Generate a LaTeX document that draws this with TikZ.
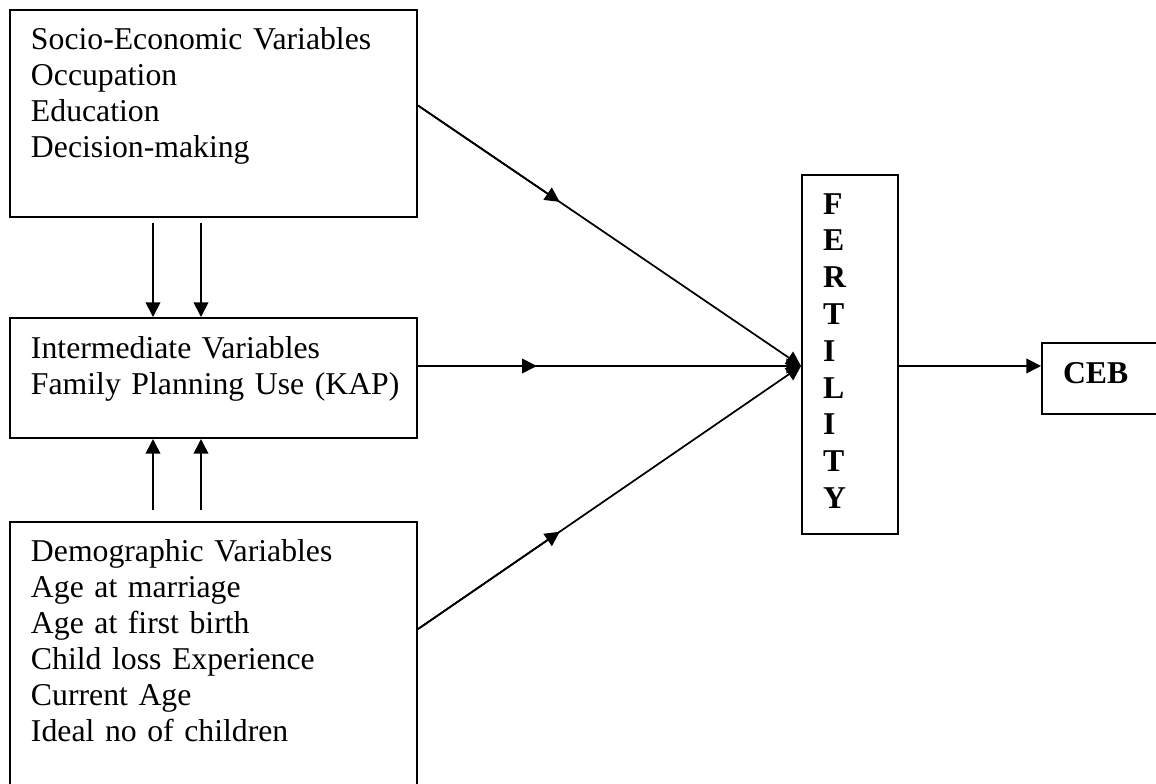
\documentclass[tikz,border=0pt]{standalone}
\usepackage{fontspec}
\setmainfont{Liberation Serif}
\usetikzlibrary{arrows.meta,positioning,calc}

\begin{document}
\begin{tikzpicture}[x=0.75pt,y=-0.75pt,
  varbox/.style={draw,line width=1.5pt,anchor=north west,align=left,
    inner xsep=15.75pt,inner ysep=0pt,text width=273.75pt,
    font=\fontsize{23.8}{27}\selectfont},
  bigbox/.style={varbox,font=\bfseries\fontsize{23.8}{27.6}\selectfont},
  arr/.style={line width=1.3pt,-{Triangle[length=11pt,width=11pt]}}]
  \useasboundingbox (0,0) rectangle (1156,783);
  % the three groups of variables
  \node[varbox,text height=29.25pt,text depth=126pt] (socio) at (9,9)
    {Socio-Economic Variables\\Occupation\\Education\\Decision-making};
  \node[varbox,text height=30pt,text depth=60pt] (inter) at (9,317)
    {Intermediate Variables\\\mbox{Family Planning Use (KAP)}};
  \node[varbox,text height=29.25pt,text depth=172.5pt] (demo) at (9,521)
    {Demographic Variables\\Age at marriage\\Age at first birth\\Child loss Experience\\Current Age\\Ideal no of children};
  % outcome
  \node[bigbox,text width=40.5pt,text height=29.25pt,text depth=240pt] (fert) at (801,174)
    {F\\E\\R\\T\\I\\L\\I\\T\\Y};
  \node[bigbox,text width=100pt,text height=30pt,text depth=23.25pt] (ceb) at (1041,342) {CEB};
  \coordinate (fin) at ([yshift=-8.6pt]fert.west);
  \coordinate (sout) at ([yshift=6pt]socio.east);
  \coordinate (iout) at ([yshift=9pt]inter.east);
  \coordinate (dout) at ([yshift=20.6pt]demo.east);
  \draw[arr] (sout) -- ($(sout)!0.37!(fin)$);
  \draw[arr] (sout) -- (fin);
  \draw[arr] (iout) -- ($(iout)!0.31!(fin)$);
  \draw[arr] (iout) -- (fin);
  \draw[arr] (dout) -- ($(dout)!0.37!(fin)$);
  \draw[arr] (dout) -- (fin);
  \draw[arr] (fin -| fert.east) -- (fin -| ceb.west);
  \foreach \x in {153,201}{
    \draw[arr] (socio.south -| \x,0) ++(0,5) -- (inter.north -| \x,0);
    \draw[arr] (demo.north -| \x,0) ++(0,-11) -- (inter.south -| \x,0);
  }
\end{tikzpicture}
\end{document}
